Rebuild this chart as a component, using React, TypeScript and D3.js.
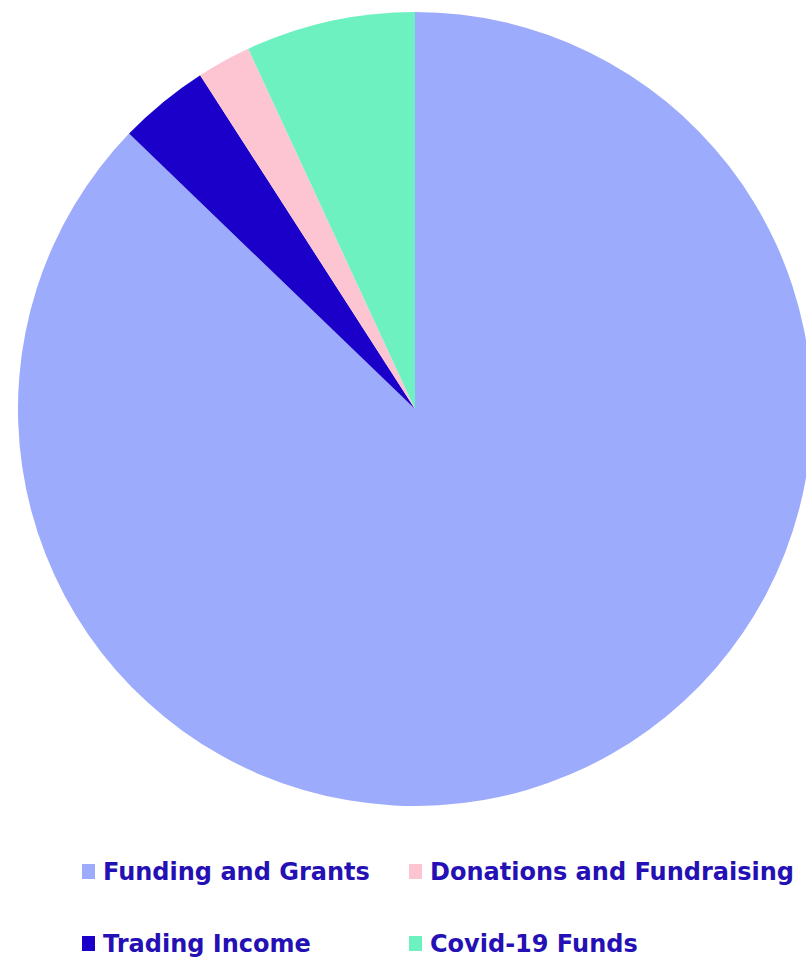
import React from "react";
import * as d3 from "d3";

const categories = ["Funding and Grants", "Trading Income", "Donations and Fundraising", "Covid-19 Funds"];
const values = [87.2, 3.7, 2.2, 6.9];
const colors = ["#9cabfb", "#1a00c8", "#fcc5d1", "#6ef1c1"];

const legendOrder = ["Funding and Grants", "Donations and Fundraising", "Trading Income", "Covid-19 Funds"];

export default function App() {
  const W = 806, H = 961;
  const cx = 415, cy = 409, r = 397;
  const data = categories.map((c, i) => ({ c, v: values[i], color: colors[i] }));
  const pie = d3.pie<any>().value((d: any) => d.v).sort(null);
  const arc = d3.arc<any>().innerRadius(0).outerRadius(r);
  const arcs = pie(data);
  const colX = [82, 409];
  const rowY = [880, 952];
  return (
    <svg width={W} height={H} style={{ position: "absolute", left: 0, top: 0, background: "#fff" }}>
      <g transform={`translate(${cx},${cy})`}>
        {arcs.map((a, i) => (
          <path key={i} d={arc(a) as string} fill={a.data.color} />
        ))}
      </g>
      {legendOrder.map((name, i) => {
        const col = i % 2, row = Math.floor(i / 2);
        const idx = categories.indexOf(name);
        const x = colX[col], y = rowY[row];
        return (
          <g key={name}>
            <rect x={x} y={y - 16} width={13} height={15} fill={colors[idx]} />
            <text x={x + 21} y={y} fontFamily="DejaVu Sans, sans-serif" fontWeight={700} fontSize={24} fill="#2410b4">{name}</text>
          </g>
        );
      })}
    </svg>
  );
}
